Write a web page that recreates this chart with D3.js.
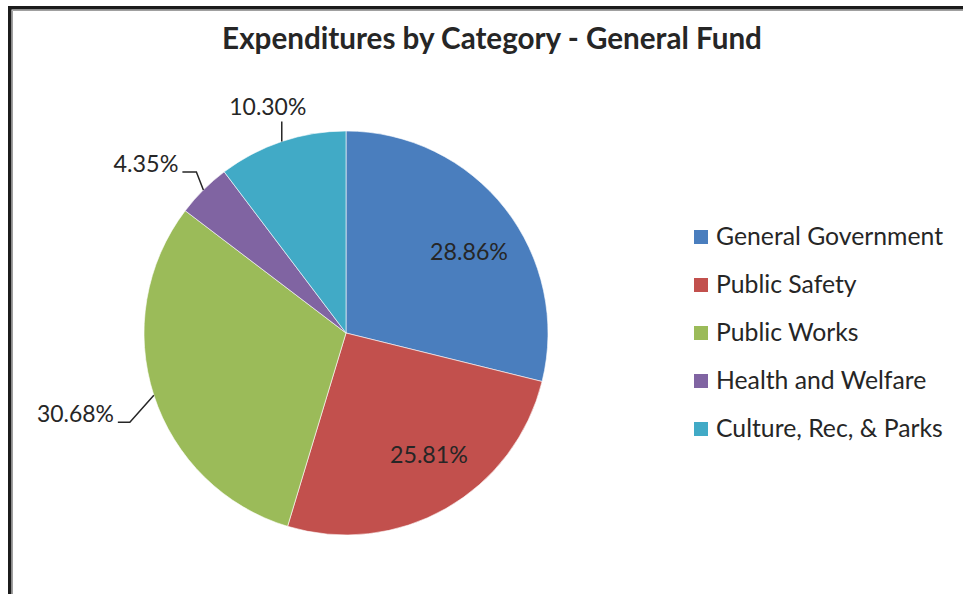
<!DOCTYPE html>
<html>
<head>
<meta charset="utf-8">
<script src="https://cdn.jsdelivr.net/npm/d3@7"></script>
<style>
  html, body { margin: 0; padding: 0; background: #fff; }
  svg { display: block; }
  text { font-family: Lato, "Open Sans", sans-serif; fill: #262626; }
</style>
</head>
<body>
<svg id="chart" width="963" height="594"></svg>
<script>
// Expenditure shares of the General Fund, in percent
const categories = ["General Government", "Public Safety", "Public Works", "Health and Welfare", "Culture, Rec, & Parks"];
const shares = [28.86, 25.81, 30.68, 4.35, 10.30];
const sliceColors = ["#4A7EBE", "#C2504D", "#9BBB59", "#8064A2", "#41AAC6"];
const chartTitle = "Expenditures by Category - General Fund";
// slices whose percentage sits inside the slice; the rest use leader lines
const insideLabelled = ["General Government", "Public Safety"];

const W = 963, H = 594;
const svg = d3.select("#chart");

// frame: heavy dark edge with a fine grey inner line
svg.append("path")
  .attr("d", `M9.75,${H} V7.75 H${W}`)
  .attr("fill", "none").attr("stroke", "#1c1c1c").attr("stroke-width", 3.5);
svg.append("path")
  .attr("d", `M12.5,${H} V10.5 H${W}`)
  .attr("fill", "none").attr("stroke", "#a0a0a0").attr("stroke-width", 1);

// fit a text node to a target width by adjusting its font size
function fitWidth(sel, target) {
  const node = sel.node();
  const fs = parseFloat(sel.attr("font-size"));
  const w = node.getComputedTextLength();
  sel.attr("font-size", (fs * target / w).toFixed(2));
  return sel;
}

// title
const title = svg.append("text")
  .attr("x", 492).attr("y", 49)
  .attr("text-anchor", "middle")
  .attr("font-weight", 700)
  .attr("font-size", 24)
  .text(chartTitle);
fitWidth(title, 540);

// pie
const cx = 346, cy = 333, R = 202;
const color = d3.scaleOrdinal().domain(categories).range(sliceColors);
const pie = d3.pie().sort(null).value(d => d.value);
const arcs = pie(categories.map((c, i) => ({ name: c, value: shares[i] })));
const arc = d3.arc().innerRadius(0).outerRadius(R);

const g = svg.append("g").attr("transform", `translate(${cx},${cy})`);
g.selectAll("path.slice")
  .data(arcs)
  .join("path")
  .attr("class", "slice")
  .attr("d", arc)
  .attr("fill", d => color(d.data.name))
  .attr("stroke", "#ffffff")
  .attr("stroke-width", 0.6);

const fmt = v => v.toFixed(2) + "%";
const mid = d => (d.startAngle + d.endAngle) / 2;
const polar = (r, a) => [r * Math.sin(a), -r * Math.cos(a)];

// inside labels: centred on the slice's bisector, leaning a little towards the horizontal
const labelAngle = d => mid(d) + 0.08 * Math.sign(Math.cos(mid(d)));
const inside = arcs.filter(d => insideLabelled.includes(d.data.name));
g.selectAll("text.inside")
  .data(inside)
  .join("text")
  .attr("class", "inside")
  .attr("x", d => polar(R * 0.73, labelAngle(d))[0])
  .attr("y", d => polar(R * 0.73, labelAngle(d))[1] + 8)
  .attr("text-anchor", "middle")
  .attr("font-size", 24)
  .text(d => fmt(d.data.value))
  .each(function () { fitWidth(d3.select(this), 78); });

// outside labels with an elbowed leader line:
// elbow offset from the rim point, then a horizontal run towards the text
const leaderShape = {
  "Public Works":          { dx: -24, dy: 27, run: -12, side: "end" },
  "Health and Welfare":    { dx: -7,  dy: -18, run: -14, side: "end" },
  "Culture, Rec, & Parks": { dx: 0,   dy: -20, run: 0,  side: "top" }
};
const outside = arcs.filter(d => !insideLabelled.includes(d.data.name));
outside.forEach(d => {
  const s = leaderShape[d.data.name];
  const [ex, ey] = polar(R, mid(d));
  const bx = ex + s.dx, by = ey + s.dy;
  const tx = bx + s.run;
  g.append("polyline")
    .attr("points", [[ex, ey], [bx, by], [tx, by]].map(p => p.join(",")).join(" "))
    .attr("fill", "none").attr("stroke", "#262626").attr("stroke-width", 1.5);
  const t = g.append("text").attr("font-size", 24).text(fmt(d.data.value));
  if (s.side === "end") {
    t.attr("x", tx - 4).attr("y", by).attr("text-anchor", "end");
  } else {
    t.attr("x", bx - 14).attr("y", by - 6).attr("text-anchor", "middle");
  }
  fitWidth(t, d.data.value < 10 ? 65 : 77);
});

// legend
const legend = svg.append("g").attr("transform", "translate(694,230)");
const rowStep = 48;
const rows = legend.selectAll("g.row")
  .data(categories)
  .join("g")
  .attr("class", "row")
  .attr("transform", (d, i) => `translate(0,${i * rowStep})`);
rows.append("rect")
  .attr("width", 14).attr("height", 14)
  .attr("fill", d => color(d));
rows.append("text")
  .attr("x", 22).attr("y", 15)
  .attr("font-size", 23)
  .text(d => d);
fitWidth(rows.filter((d, i) => i === 0).select("text"), 227);
const legendSize = rows.filter((d, i) => i === 0).select("text").attr("font-size");
rows.selectAll("text").attr("font-size", legendSize);
</script>
</body>
</html>
